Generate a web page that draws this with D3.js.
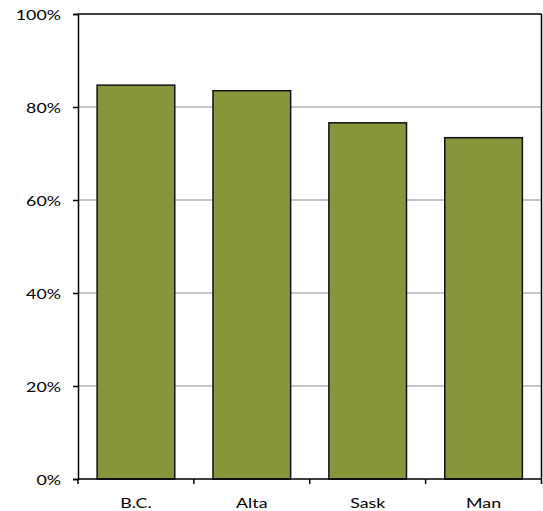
<!DOCTYPE html>
<html><head><meta charset="utf-8">
<script src="https://cdn.jsdelivr.net/npm/d3@7"></script>
<style>
html,body{margin:0;padding:0;background:#fff;}
svg text{font-family:Lato,"Open Sans",sans-serif;font-size:14px;fill:#000;}
</style></head>
<body><svg id="c" width="543" height="511"></svg>
<script>
const categories = ["B.C.", "Alta", "Sask", "Man"];
const values = [84.7, 83.5, 76.6, 73.4];
const yTicks = [0, 20, 40, 60, 80, 100];

const svg = d3.select("#c");
const L = 78, R = 541.5, T = 14, B = 479;
const SX = 1.27;
const x = d3.scaleBand().domain(categories).range([L, R]).paddingInner(0.33).paddingOuter(0.165);
const y = d3.scaleLinear().domain([0, 100]).range([B, T]);

// gridlines
svg.append("g").selectAll("line").data(yTicks.filter(d => d > 0 && d < 100)).join("line")
  .attr("x1", L).attr("x2", R).attr("y1", d => y(d)).attr("y2", d => y(d))
  .attr("stroke", "#8c8c8c").attr("stroke-width", 1.2);

// bars
svg.append("g").selectAll("rect").data(categories).join("rect")
  .attr("x", d => x(d)).attr("width", x.bandwidth())
  .attr("y", (d, i) => y(values[i])).attr("height", (d, i) => y(0) - y(values[i]))
  .attr("fill", "#87963a").attr("stroke", "#111").attr("stroke-width", 1.5);

// frame top/right
svg.append("line").attr("x1", L).attr("x2", R).attr("y1", T).attr("y2", T).attr("stroke", "#000").attr("stroke-width", 1.5);
svg.append("line").attr("x1", R).attr("x2", R).attr("y1", T).attr("y2", B).attr("stroke", "#000").attr("stroke-width", 1.5);

// y axis
const ya = svg.append("g").attr("transform", `translate(${L},0)`)
  .call(d3.axisLeft(y).tickValues(yTicks).tickFormat(d => d + "%").tickSize(5).tickPadding(10));
ya.select(".domain").attr("stroke", "#000").attr("stroke-width", 1.5);
ya.selectAll(".tick line").attr("stroke", "#000").attr("stroke-width", 1.5);
ya.selectAll(".tick text")
  .attr("font-family", null).attr("font-size", null)
  .attr("x", null).attr("dy", null).attr("text-anchor", "end")
  .attr("transform", "translate(-17,5) scale(" + SX + ",1)");

// x axis
const xTickScale = d3.scaleLinear().domain([0, categories.length]).range([L, R]);
const xa = svg.append("g").attr("transform", `translate(0,${B})`);
xa.append("line").attr("x1", L).attr("x2", R).attr("stroke", "#000").attr("stroke-width", 1.5);
xa.selectAll("line.t").data(d3.range(categories.length + 1)).join("line").attr("class", "t")
  .attr("x1", d => xTickScale(d)).attr("x2", d => xTickScale(d)).attr("y1", 0).attr("y2", 5)
  .attr("stroke", "#000").attr("stroke-width", 1.5);
xa.selectAll("text").data(categories).join("text")
  .attr("transform", d => `translate(${x(d) + x.bandwidth() / 2},29) scale(${SX},1)`)
  .attr("text-anchor", "middle").text(d => d);
</script></body></html>
